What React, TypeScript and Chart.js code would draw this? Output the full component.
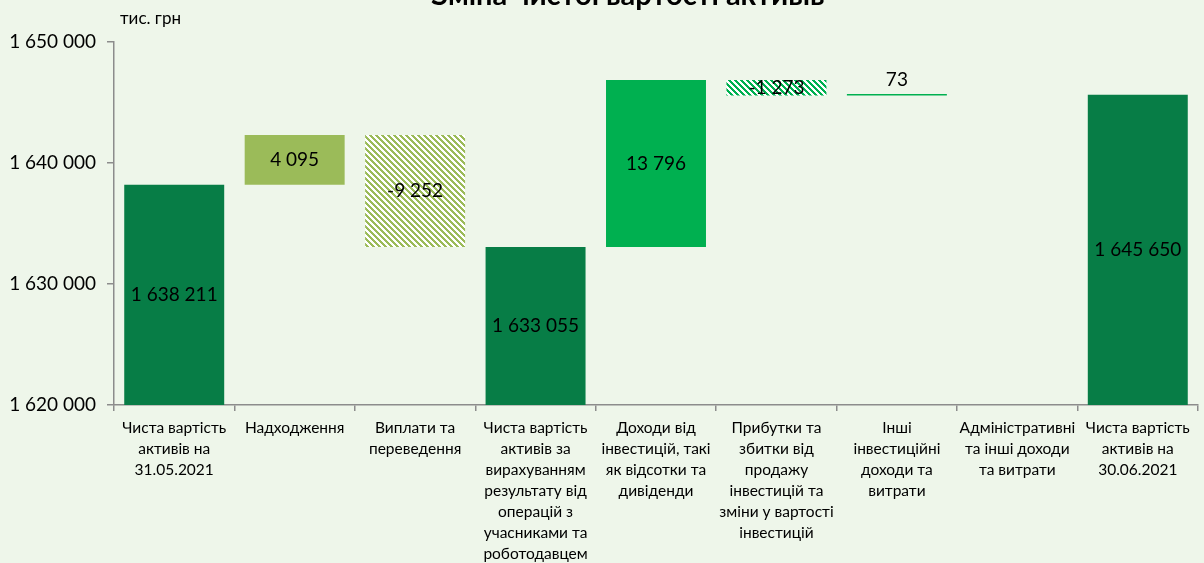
import React, { useEffect, useRef } from "react";
import { Chart, registerables } from "chart.js";

Chart.register(...registerables);

const TITLE = "Зміна чистої вартості активів";
const UNIT = "тис. грн";

const categories: string[][] = [
  ["Чиста вартість", "активів на", "31.05.2021"],
  ["Надходження"],
  ["Виплати та", "переведення"],
  ["Чиста вартість", "активів за", "вирахуванням", "результату від", "операцій з", "учасниками та", "роботодавцем"],
  ["Доходи від", "інвестицій, такі", "як відсотки та", "дивіденди"],
  ["Прибутки та", "збитки від", "продажу", "інвестицій та", "зміни у вартості", "інвестицій"],
  ["Інші", "інвестиційні", "доходи та", "витрати"],
  ["Адміністративні", "та інші доходи", "та витрати"],
  ["Чиста вартість", "активів на", "30.06.2021"],
];

// kind: "total" = bar from axis, "delta" = floating change
const kinds = ["total", "delta", "delta", "total", "delta", "delta", "delta", "delta", "total"];
// totals and changes (тис. грн)
const values = [1638211, 4095, -9252, 1633055, 13796, -1273, 73, 0, 1645650];

const yTicks = [1620000, 1630000, 1640000, 1650000];

const DARK = "#077D46";
const OLIVE = "#9BBB59";
const BRIGHT = "#00B050";
const BG = "#EEF6EA";

function hatch(color: string): CanvasPattern | string {
  const P = 6;
  const c = document.createElement("canvas");
  c.width = P;
  c.height = P;
  const ctx = c.getContext("2d");
  if (!ctx) return color;
  const img = ctx.createImageData(P, P);
  const r = parseInt(color.slice(1, 3), 16);
  const g = parseInt(color.slice(3, 5), 16);
  const b = parseInt(color.slice(5, 7), 16);
  for (let y = 0; y < P; y++) {
    for (let x = 0; x < P; x++) {
      const on = (((x - y) % P) + P) % P < 3;
      const i = (y * P + x) * 4;
      img.data[i] = on ? r : 255;
      img.data[i + 1] = on ? g : 255;
      img.data[i + 2] = on ? b : 255;
      img.data[i + 3] = 255;
    }
  }
  ctx.putImageData(img, 0, 0);
  return ctx.createPattern(c, "repeat") || color;
}

function fmt(v: number): string {
  const s = Math.abs(Math.round(v)).toString().replace(/\B(?=(\d{3})+(?!\d))/g, " ");
  return (v < 0 ? "-" : "") + s;
}

export default function App() {
  const ref = useRef<HTMLCanvasElement | null>(null);

  useEffect(() => {
    document.body.style.margin = "0";
    document.body.style.background = BG;
    const canvas = ref.current;
    if (!canvas) return;

    // build floating bars
    const data: any[] = [];
    let running = 0;
    values.forEach((v, i) => {
      if (kinds[i] === "total") {
        running = v;
        data.push(v);
      } else {
        const start = running;
        running = start + v;
        data.push(v === 0 ? null : [start, running]);
      }
    });

    const hatchOlive = hatch(OLIVE);
    const hatchBright = hatch(BRIGHT);
    const colors = [DARK, OLIVE, hatchOlive, DARK, BRIGHT, hatchBright, BRIGHT, BRIGHT, DARK];

    const FONT = "Lato, 'Open Sans', sans-serif";

    const labelsPlugin = {
      id: "wfLabels",
      afterDatasetsDraw(chart: any) {
        const ctx = chart.ctx;
        const meta = chart.getDatasetMeta(0);
        const area = chart.chartArea;
        ctx.save();
        ctx.fillStyle = "#000";
        ctx.font = `19px ${FONT}`;
        ctx.textAlign = "center";
        ctx.textBaseline = "middle";
        meta.data.forEach((el: any, i: number) => {
          const v = values[i];
          if (v === 0 || el.y == null || isNaN(el.y)) return;
          const top = Math.max(Math.min(el.y, el.base), area.top);
          const bot = Math.min(Math.max(el.y, el.base), area.bottom);
          if (bot - top < 6) {
            ctx.fillText(fmt(v), el.x, top - 14);
          } else {
            ctx.fillText(fmt(v), el.x, (top + bot) / 2);
          }
        });
        ctx.restore();
      },
      afterDraw(chart: any) {
        const ctx = chart.ctx;
        ctx.save();
        ctx.fillStyle = "#000";
        ctx.textAlign = "center";
        ctx.textBaseline = "alphabetic";
        ctx.font = `bold 29px ${FONT}`;
        ctx.fillText(TITLE, 628, 5);
        ctx.font = `17px ${FONT}`;
        ctx.textAlign = "left";
        ctx.fillText(UNIT, 120, 24);
        ctx.restore();
      },
    };

    const chart = new Chart(canvas, {
      type: "bar",
      data: {
        labels: categories,
        datasets: [
          {
            data,
            backgroundColor: colors,
            borderWidth: 0,
            borderSkipped: false,
            barPercentage: 0.83,
            categoryPercentage: 1,
            minBarLength: 1.5,
          } as any,
        ],
      },
      options: {
        animation: false,
        responsive: false,
        maintainAspectRatio: false,
        layout: { padding: { top: 42, right: 6, left: 0, bottom: 0 } },
        plugins: {
          legend: { display: false },
          tooltip: { enabled: false },
          title: { display: false },
        },
        scales: {
          x: {
            grid: {
              display: true,
              drawOnChartArea: false,
              offset: true,
              tickLength: 6,
              color: "#8C8C8C",
              lineWidth: 1.5,
            },
            border: { color: "#8C8C8C", width: 1.5 },
            ticks: {
              color: "#000",
              font: { family: FONT, size: 15.5, lineHeight: 1.36 },
              padding: 6,
              maxRotation: 0,
              autoSkip: false,
            },
            afterFit(scale: any) {
              scale.height = 563 - 405;
            },
          },
          y: {
            min: 1620000,
            max: 1650000,
            afterBuildTicks(scale: any) {
              scale.ticks = yTicks.map((v) => ({ value: v }));
            },
            grid: {
              display: true,
              drawOnChartArea: false,
              tickLength: 7,
              color: "#8C8C8C",
              lineWidth: 1.5,
            },
            border: { color: "#8C8C8C", width: 1.5 },
            ticks: {
              color: "#000",
              font: { family: FONT, size: 19 },
              padding: 11,
              callback: (v: any) => fmt(Number(v)),
            },
            afterFit(scale: any) {
              scale.width = 114;
            },
          },
        },
      },
      plugins: [labelsPlugin],
    });

    return () => chart.destroy();
  }, []);

  return (
    <div style={{ position: "absolute", left: 0, top: 0, width: 1204, height: 563, background: BG }}>
      <canvas ref={ref} width={1204} height={563} style={{ display: "block", width: 1204, height: 563 }} />
    </div>
  );
}
